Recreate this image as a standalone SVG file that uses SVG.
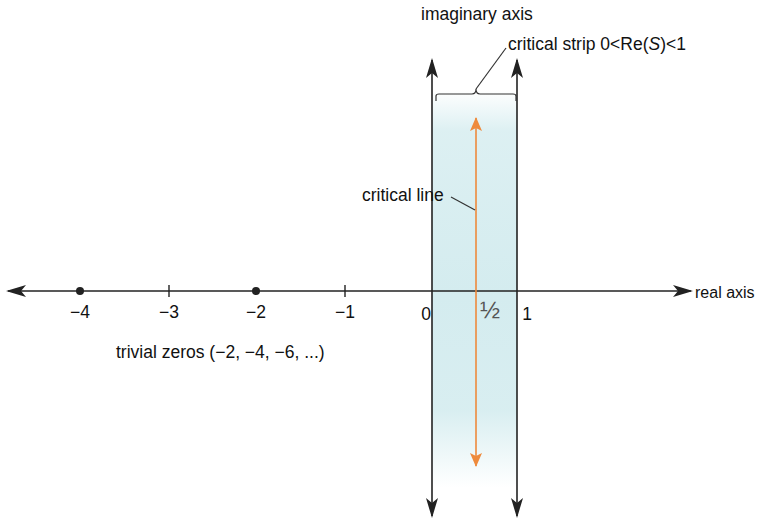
<svg xmlns="http://www.w3.org/2000/svg" width="759" height="519" viewBox="0 0 759 519">
<style>
text{font-family:"Liberation Sans",Arial,sans-serif;font-size:17.5px;fill:#111}
.ax{stroke:#222;stroke-width:1.6;fill:none}
.tk{stroke:#222;stroke-width:1.4}
.lead{stroke:#333;stroke-width:1.2;fill:none}
</style>
<defs>
<marker id="ah" viewBox="0 0 20 12" refX="18" refY="6" markerWidth="20" markerHeight="12" markerUnits="userSpaceOnUse" orient="auto-start-reverse">
<path d="M0,0 L20,6 L0,12 L5,6 Z" fill="#222"/>
</marker>
<marker id="oh" viewBox="0 0 14 12" refX="13" refY="6" markerWidth="14" markerHeight="12" markerUnits="userSpaceOnUse" orient="auto-start-reverse">
<path d="M0,0 L14,6 L0,12 L3,6 Z" fill="#ee8a3c"/>
</marker>
<linearGradient id="sg" x1="0" y1="0" x2="0" y2="1">
<stop offset="0" stop-color="#d4ecef" stop-opacity="0"/>
<stop offset="0.1" stop-color="#d4ecef" stop-opacity="0.8"/>
<stop offset="0.5" stop-color="#d4ecef" stop-opacity="1"/>
<stop offset="0.78" stop-color="#d4ecef" stop-opacity="0.9"/>
<stop offset="0.97" stop-color="#d4ecef" stop-opacity="0"/>
</linearGradient>
</defs>
<g id="strip"><rect x="432" y="90" width="85" height="410" fill="url(#sg)"/></g>
<g id="connectors">
<line class="ax" x1="8" y1="291" x2="691" y2="291" marker-start="url(#ah)" marker-end="url(#ah)"/>
<line class="ax" x1="432" y1="60" x2="432" y2="516" marker-start="url(#ah)" marker-end="url(#ah)"/>
<line class="ax" x1="517" y1="60" x2="517" y2="516" marker-start="url(#ah)" marker-end="url(#ah)"/>
<line x1="476" y1="118" x2="476" y2="466" stroke="#ee8a3c" stroke-width="1.6" marker-start="url(#oh)" marker-end="url(#oh)"/>
<path class="lead" d="M436,101 V96 Q436,94 439,94 H472 Q476,94 476,89 Q476,94 480,94 H513 Q516,94 516,96 V101"/>
<path class="lead" d="M476,89 L506,48"/>
<path class="lead" d="M451,197 L475,210"/>
<line class="tk" x1="169" y1="285" x2="169" y2="297"/>
<line class="tk" x1="345" y1="285" x2="345" y2="297"/>
<circle cx="80" cy="291" r="4" fill="#222"/>
<circle cx="256" cy="291" r="4" fill="#222"/>
</g>
<g id="labels">
<text x="421" y="20">imaginary axis</text>
<text x="508" y="50">critical strip 0&lt;Re(<tspan font-style="italic">S</tspan>)&lt;1</text>
<text x="362" y="201">critical line</text>
<text x="695" y="298" style="font-size:16px">real axis</text>
<text x="80" y="318" text-anchor="middle">−4</text>
<text x="169" y="318" text-anchor="middle">−3</text>
<text x="256" y="318" text-anchor="middle">−2</text>
<text x="345" y="318" text-anchor="middle">−1</text>
<text x="426" y="320" text-anchor="middle">0</text>
<text x="490" y="318" text-anchor="middle" style="font-size:24px;fill:#555">½</text>
<text x="527" y="320" text-anchor="middle">1</text>
<text x="116" y="358">trivial zeros (−2, −4, −6, ...)</text>
</g>
</svg>
